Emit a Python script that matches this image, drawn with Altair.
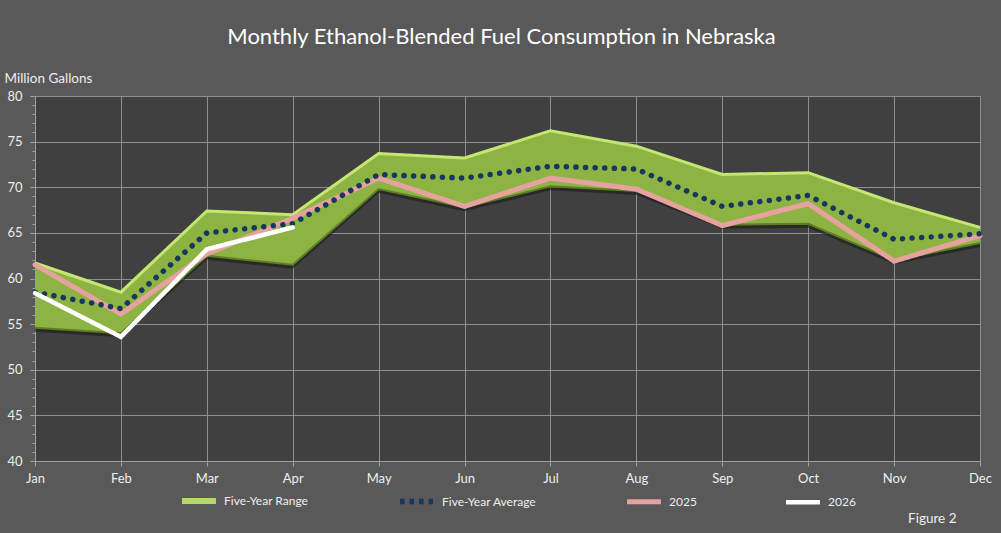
import altair as alt
import pandas as pd

months = ["Jan", "Feb", "Mar", "Apr", "May", "Jun", "Jul", "Aug", "Sep", "Oct", "Nov", "Dec"]
range_low = [54.6, 54.0, 62.5, 61.5, 69.8, 67.8, 70.1, 69.6, 65.9, 66.0, 62.0, 63.9]
range_high = [61.7, 58.5, 67.4, 67.0, 73.7, 73.2, 76.2, 74.5, 71.4, 71.6, 68.3, 65.6]
avg5 = [58.5, 56.7, 65.0, 66.0, 71.4, 71.0, 72.3, 72.0, 67.9, 69.1, 64.3, 64.9]
y2025 = [61.5, 56.1, 62.7, 66.6, 71.0, 67.9, 71.0, 69.8, 65.8, 68.2, 61.9, 64.7]
y2026 = [58.4, 53.6, 63.2, 65.6]

series_names = ["Five-Year Range", "Five-Year Average", "2025", "2026"]
series_colors = ["#b8da62", "#17375e", "#e6a29f", "#ffffff"]
legend_dash = [[1, 0], [4.5, 5], [1, 0], [1, 0]]
series_width = [6, 4.5, 5, 5]

FONT = "Lato"
TXT = "#eeeeee"

band = pd.DataFrame({"month": months, "low": range_low, "high": range_high})
rows = []
for m, v in zip(months, avg5):
    rows.append({"month": m, "series": "Five-Year Average", "value": v})
for m, v in zip(months, y2025):
    rows.append({"month": m, "series": "2025", "value": v})
for m, v in zip(months, y2026):
    rows.append({"month": m, "series": "2026", "value": v})
lines = pd.DataFrame(rows)

xscale = alt.Scale(type="point", padding=0)
xenc = alt.X("month:O", sort=months, scale=xscale,
             axis=alt.Axis(title="Figure 2", titleX=921, titleY=61, titleAlign="right",
                           titleBaseline="alphabetic", titleFontSize=13.5, titleFontWeight="normal",
                           titleColor=TXT, titleFont=FONT, titleAnchor="end",
                           labelAngle=0, labelFontSize=13, labelColor=TXT, labelFont=FONT,
                           labelPadding=6, tickSize=5, tickColor="#a0a0a0",
                           grid=True, gridColor="#8f8f8f", gridWidth=1,
                           domainColor="#a0a0a0"))
xnone = alt.X("month:O", sort=months, scale=xscale, axis=None)

yscale = alt.Scale(domain=[40, 80], nice=False, zero=False)

color_scale = alt.Scale(domain=series_names, range=series_colors)
legend = alt.Legend(
    title=None, orient="none", legendX=144, legendY=385, direction="horizontal",
    columns=4, columnPadding=80, symbolType="stroke", symbolSize=1150,
    labelFontSize=12, labelColor=TXT, labelFont=FONT, labelOffset=5,
)

shadow = alt.Chart(band).mark_area(color="#1a1a1a", opacity=0.6, yOffset=4).encode(
    x=xenc,
    y=alt.Y("low:Q", scale=yscale,
            axis=alt.Axis(values=list(range(40, 81, 5)), title="Million Gallons",
                          titleAngle=0, titleAlign="left", titleBaseline="alphabetic",
                          titleX=-31, titleY=-14, titleFontSize=13.5, titleFontWeight="normal",
                          titleColor=TXT, titleFont=FONT,
                          labelFontSize=13, labelColor=TXT, labelFont=FONT, labelPadding=8,
                          tickSize=5, tickColor="#a0a0a0", grid=True, gridColor="#8f8f8f",
                          domainColor="#a0a0a0")),
    y2="high:Q",
)

minor = alt.Chart(band).mark_area(opacity=0).encode(
    x=xnone,
    y=alt.Y("low:Q", scale=yscale,
            axis=alt.Axis(orient="left", values=list(range(40, 81, 1)), labels=False, title=None,
                          tickSize=3, tickColor="#a0a0a0", grid=False, domain=False)),
    y2="high:Q",
)

fill = alt.Chart(band).mark_area(color="#8db443").encode(
    x=xnone, y=alt.Y("low:Q", scale=yscale, axis=None), y2="high:Q",
)
lower_edge = alt.Chart(band).mark_line(color="#5f7d24", strokeWidth=2).encode(
    x=xnone, y=alt.Y("low:Q", scale=yscale, axis=None),
)
upper_edge = alt.Chart(band).mark_line(color="#c6e673", strokeWidth=3).encode(
    x=xnone, y=alt.Y("high:Q", scale=yscale, axis=None),
)

def series_layer(name, with_dash=True, **mark):
    enc = dict(
        x=xnone,
        y=alt.Y("value:Q", scale=yscale, axis=None),
        color=alt.Color("series:N", scale=color_scale, legend=legend),
        strokeWidth=alt.StrokeWidth("series:N", scale=alt.Scale(domain=series_names, range=series_width), legend=legend),
    )
    if with_dash:
        enc["strokeDash"] = alt.StrokeDash("series:N", scale=alt.Scale(domain=series_names, range=legend_dash), legend=legend)
    return alt.Chart(lines).transform_filter(alt.datum.series == name).mark_line(
        strokeJoin="miter", **mark).encode(**enc)

l2025 = series_layer("2025", strokeCap="round")
avg_layer = series_layer("Five-Year Average", with_dash=False, strokeCap="round", strokeDash=[0.1, 9.5])
l2026 = series_layer("2026", strokeCap="round")

chart = alt.layer(shadow, minor, fill, lower_edge, upper_edge, l2025, avg_layer, l2026).resolve_axis(
    x="independent", y="independent"
).properties(
    width=945, height=365,
    background="#595959",
    padding={"left": 35, "top": 96, "right": 21, "bottom": 72},
    autosize=alt.AutoSizeParams(type="none"),
    title=alt.Title("Monthly Ethanol-Blended Fuel Consumption in Nebraska",
                    fontSize=22, font=FONT, fontWeight="normal", color="#ffffff",
                    anchor="middle", offset=22, dx=-6),
).configure_view(fill="#404040", stroke=None)

chart.save("out.html", embed_options={"renderer": "svg", "actions": False})
